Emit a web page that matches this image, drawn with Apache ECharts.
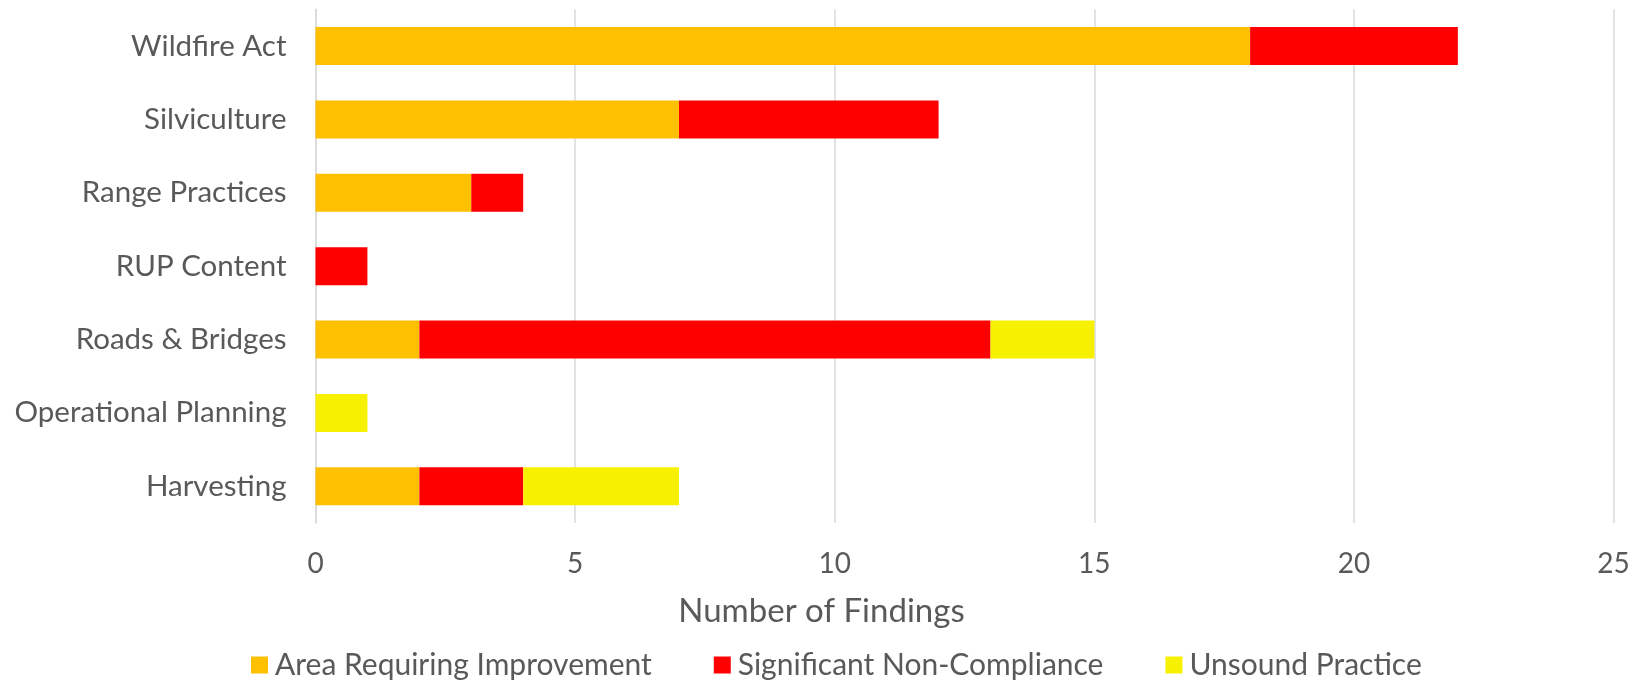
<!DOCTYPE html>
<html>
<head>
<meta charset="utf-8">
<script src="https://cdn.jsdelivr.net/npm/echarts@6/dist/echarts.min.js"></script>
<style>
html,body{margin:0;padding:0;background:#fff;}
#chart{width:1643px;height:682px;}
</style>
</head>
<body>
<div id="chart"></div>
<script>
const categories = ["Wildfire Act","Silviculture","Range Practices","RUP Content","Roads & Bridges","Operational Planning","Harvesting"];
const areaRequiringImprovement = [18, 7, 3, 0, 2, 0, 2];
const significantNonCompliance = [4, 5, 1, 1, 11, 0, 2];
const unsoundPractice = [0, 0, 0, 0, 2, 1, 3];
const xTicks = [0, 5, 10, 15, 20, 25];
const axisTitle = 'Number of Findings';

const FONT = 'Lato';
const TXT = '#595959';
const chart = echarts.init(document.getElementById('chart'), null, {renderer:'canvas'});
function mk(name, data, color){
  return {name, type:'bar', stack:'total', data: data.map(v => v === 0 ? null : v),
    barWidth: 38, itemStyle:{color}, emphasis:{disabled:true}};
}
chart.setOption({
  animation:false,
  textStyle:{fontFamily:FONT},
  title:{text:axisTitle, left:'center', top:590,
    textStyle:{color:TXT, fontSize:33, fontWeight:'normal', fontFamily:FONT}},
  grid:{left:315.5, right:29.4, top:9.3, bottom:159, containLabel:false},
  xAxis:{type:'value', min:xTicks[0], max:xTicks[xTicks.length-1], interval:5,
    axisLine:{show:false}, axisTick:{show:false},
    splitLine:{lineStyle:{color:'#d9d9d9', width:1.5}},
    axisLabel:{color:TXT, fontSize:28, fontFamily:FONT, margin:27}},
  yAxis:{type:'category', data:categories, inverse:true,
    axisLine:{show:true, lineStyle:{color:'#d9d9d9', width:1.5}},
    axisTick:{show:false},
    axisLabel:{color:TXT, fontSize:29.5, fontFamily:FONT, margin:29}},
  legend:{top:650, left:251, itemWidth:17, itemHeight:17, itemGap:62, padding:0,
    icon:'rect', textStyle:{color:TXT, fontSize:30, fontFamily:FONT, padding:[0,0,0,2]},
    data:['Area Requiring Improvement','Significant Non-Compliance','Unsound Practice']},
  series:[
    mk('Area Requiring Improvement', areaRequiringImprovement, '#FFC000'),
    mk('Significant Non-Compliance', significantNonCompliance, '#FF0000'),
    mk('Unsound Practice', unsoundPractice, '#F7F000')
  ]
});
</script>
</body>
</html>
